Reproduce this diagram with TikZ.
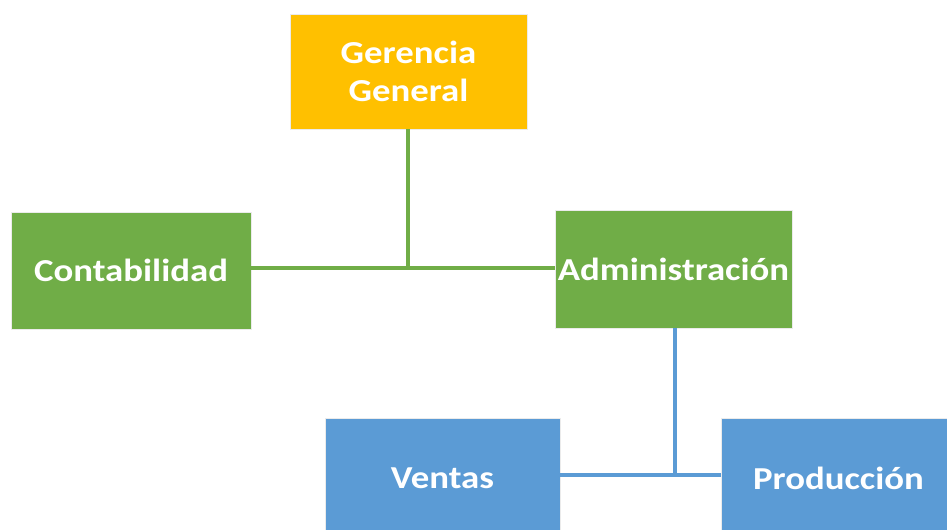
\documentclass[tikz,border=0pt]{standalone}
\usepackage{fontspec}
\setmainfont{Carlito}
\newfontfamily\boxfont[FakeStretch=1.15]{Carlito}
\usepackage{tikz}
\definecolor{OrgOrange}{HTML}{FFC000}
\definecolor{OrgGreen}{HTML}{70AD47}
\definecolor{OrgBlue}{HTML}{5B9BD5}

\begin{document}
\begin{tikzpicture}[x=0.75pt, y=-0.75pt,
                    every node/.style={draw=black!8, line width=0.6pt, align=center, text=white,
                                       font=\boxfont\bfseries\fontsize{24}{28}\selectfont,
                                       inner sep=0pt},
                    greenline/.style={draw=OrgGreen, line width=2.6pt},
                    blueline/.style={draw=OrgBlue, line width=2.6pt}]
\useasboundingbox (0,0) rectangle (947,530);
\clip (0,0) rectangle (947,530);
\node[fill=OrgOrange, minimum width=177.75pt, minimum height=86.25pt] (gerencia) at (408.5,71.5) {Gerencia\\General};
\node[fill=OrgGreen, minimum width=180pt, minimum height=87.75pt] (conta) at (131,270.5) {Contabilidad};
\node[fill=OrgGreen, minimum width=177.75pt, minimum height=88.5pt] (admin) at (673.5,269) {Administración};
\node[fill=OrgBlue, minimum width=176.25pt, minimum height=90pt] (ventas) at (442.5,478) {Ventas};
\node[fill=OrgBlue, minimum width=176.25pt, minimum height=90pt] (prod) at (838.5,478) {Producción};
% conectores
\coordinate (jgreen) at (408,268);
\coordinate (jblue) at (675,475);
\draw[greenline] (gerencia.south -| jgreen) -- (jgreen);
\draw[greenline] (conta.east |- jgreen) -- (admin.west |- jgreen);
\draw[blueline] (admin.south -| jblue) -- (jblue);
\draw[blueline] (ventas.east |- jblue) -- (prod.west |- jblue);
\end{tikzpicture}
\end{document}
